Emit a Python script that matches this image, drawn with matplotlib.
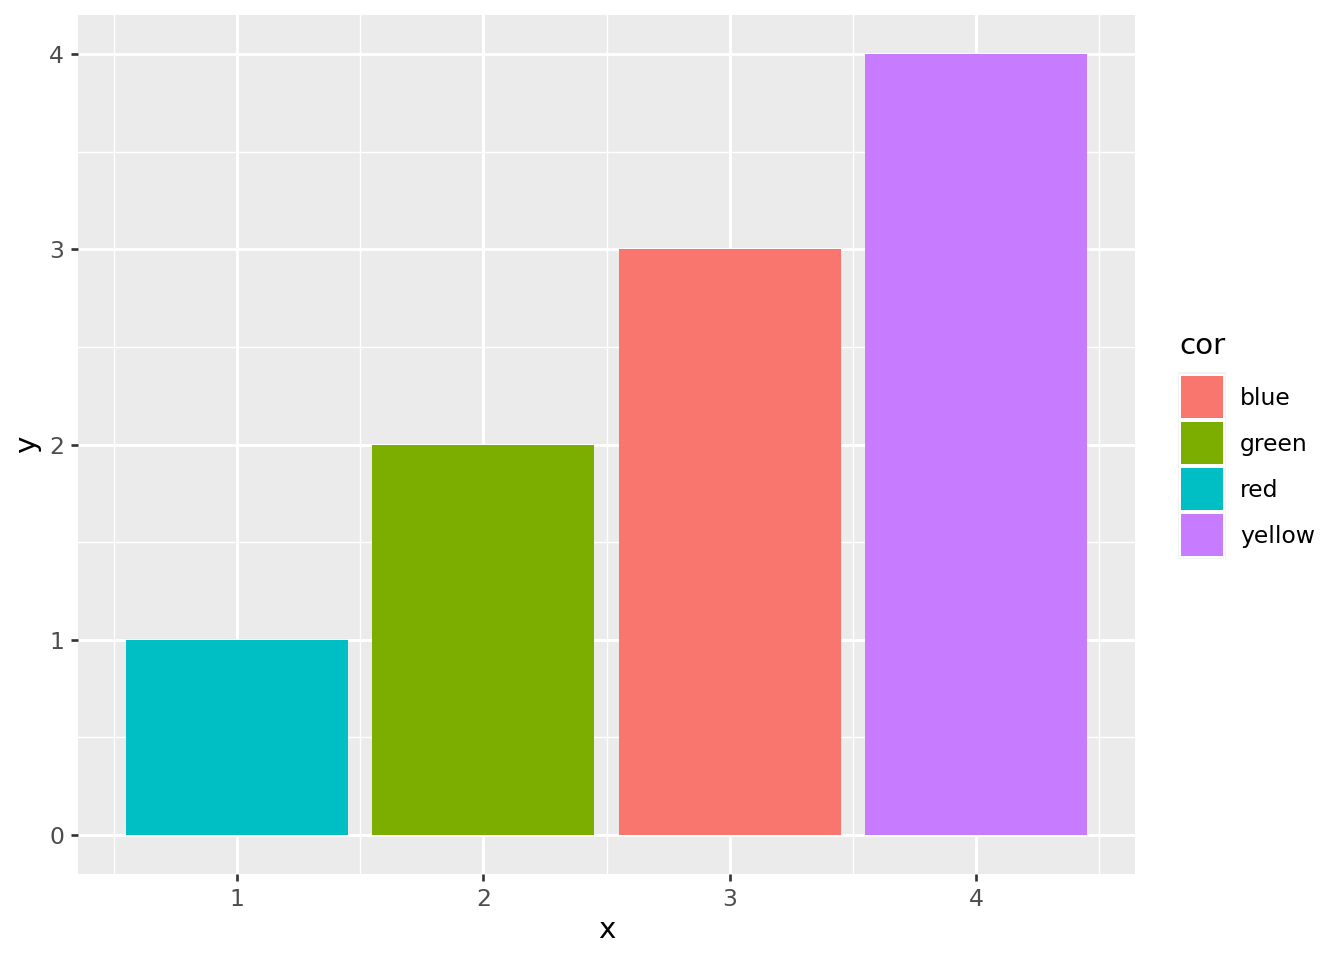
import matplotlib
matplotlib.use("Agg")
import matplotlib.pyplot as plt
from matplotlib.patches import Rectangle

x = [1, 2, 3, 4]
y = [1, 2, 3, 4]
cor = ["red", "green", "blue", "yellow"]
levels = ["blue", "green", "red", "yellow"]
palette = {"blue": "#F8766D", "green": "#7CAE00", "red": "#00BFC4", "yellow": "#C77CFF"}

DPI = 192
fig = plt.figure(figsize=(1344 / DPI, 960 / DPI), dpi=DPI)
W, H = 1344, 960
ax = fig.add_axes([78 / W, 1 - 874 / H, (1135 - 78) / W, (874 - 15) / H])
ax.set_facecolor("#EBEBEB")
for s in ax.spines.values():
    s.set_visible(False)

ax.bar(x, y, width=0.9, color=[palette[c] for c in cor], zorder=3)

ax.set_xlim(0.355, 4.645)
ax.set_ylim(-0.2, 4.2)
ax.set_xticks([1, 2, 3, 4])
ax.set_yticks([0, 1, 2, 3, 4])
ax.set_xticks([0.5, 1.5, 2.5, 3.5, 4.5], minor=True)
ax.set_yticks([0.5, 1.5, 2.5, 3.5], minor=True)
ax.grid(which="major", color="white", linewidth=1.1, zorder=1)
ax.grid(which="minor", color="white", linewidth=0.55, zorder=1)
ax.set_axisbelow(True)
ax.tick_params(which="major", length=2.75, width=1.0, color="#333333",
               labelcolor="#4D4D4D", labelsize=8.8, pad=2.5)
ax.tick_params(which="minor", length=0)
ax.set_xlabel("x", fontsize=11, labelpad=2)
ax.set_ylabel("y", fontsize=11, labelpad=3)

# legend
fig.text(1179 / W, 1 - 346 / H, "cor", fontsize=11, va="center", ha="left")
bg = Rectangle((1178 / W, 1 - 559 / H), 48 / W, 187 / H, transform=fig.transFigure,
               facecolor="#F2F2F2", edgecolor="none")
fig.add_artist(bg)
for i, lab in enumerate(levels):
    yt = 375 + i * 46
    r = Rectangle((1180 / W, 1 - (yt + 44) / H), 44 / W, 44 / H,
                  transform=fig.transFigure, facecolor=palette[lab],
                  edgecolor="white", linewidth=0.75)
    fig.add_artist(r)
    fig.text(1240 / W, 1 - (yt + 30) / H, lab, fontsize=8.8,
             va="baseline", ha="left")

fig.savefig("out.png", dpi=DPI)
